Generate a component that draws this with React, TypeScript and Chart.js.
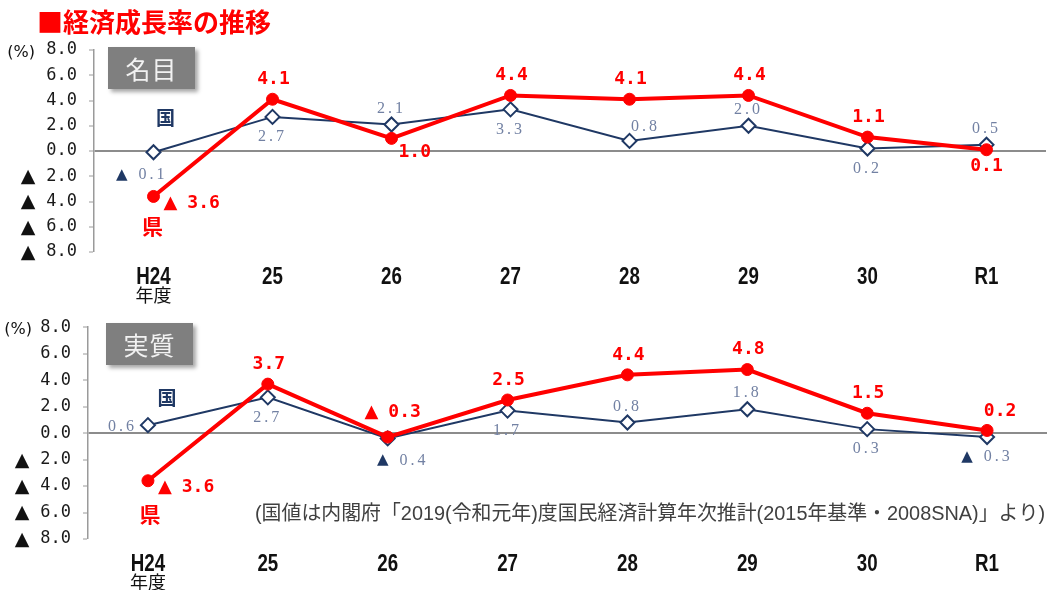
import React, { useEffect, useRef } from "react";
import { Chart, registerables } from "chart.js";

Chart.register(...registerables);

// ---------- data ----------
const categories = ["H24", "25", "26", "27", "28", "29", "30", "R1"];
const fiscalYearNote = "年度";
const yMin = -8;
const yMax = 8;
const yStep = 2;

const nominalPrefecture = [-3.6, 4.1, 1.0, 4.4, 4.1, 4.4, 1.1, 0.1];
const nominalNation = [-0.1, 2.7, 2.1, 3.3, 0.8, 2.0, 0.2, 0.5];
const realPrefecture = [-3.6, 3.7, -0.3, 2.5, 4.4, 4.8, 1.5, 0.2];
const realNation = [0.6, 2.7, -0.4, 1.7, 0.8, 1.8, 0.3, -0.3];

// label placement keys (layout only)
const nominalPrefectureLabelPos = ["E", "N", "SE", "N", "N", "N", "N", "S"];
const nominalNationLabelPos = ["SW", "S", "N", "S", "NE", "N", "S", "N"];
const realPrefectureLabelPos = ["E", "N", "NN", "N", "N", "N", "N", "NE"];
const realNationLabelPos = ["W", "S", "SE", "S", "N", "N", "S", "S"];

const titleText = "■経済成長率の推移";
const nominalTitle = "名目";
const realTitle = "実質";
const prefName = "県";
const nationName = "国";
const footnoteText =
  "(国値は内閣府「2019(令和元年)度国民経済計算年次推計(2015年基準・2008SNA)」より)";

// ---------- styles ----------
const RED = "#ff0000";
const NAVY = "#1f3864";
const NAVY_TEXT = "#7281a3";
const W = 1057;
const XH = 40;

type Place = { dx: number; dy: number; align: "left" | "center" | "right" };
const RED_PLACES: Record<string, Place> = {
  E: { dx: 10, dy: 7, align: "left" },
  N: { dx: 1, dy: -20, align: "center" },
  NN: { dx: 5, dy: -25, align: "center" },
  NE: { dx: 13, dy: -19, align: "center" },
  SE: { dx: 7, dy: 14, align: "left" },
  S: { dx: 0, dy: 17, align: "center" },
};
const NAVY_PLACES: Record<string, Place> = {
  N: { dx: 0, dy: -16, align: "center" },
  NE: { dx: 16, dy: -14, align: "center" },
  S: { dx: 0, dy: 20, align: "center" },
  SE: { dx: 15, dy: 22, align: "center" },
  SW: { dx: 14, dy: 23, align: "right" },
  W: { dx: -11, dy: 2, align: "right" },
};

type LabelStyle = {
  numFont: string;
  numColor: string;
  spacing: string;
  triFont: string;
  triColor: string;
  gap: number;
};
const RED_LABEL: LabelStyle = {
  numFont: "bold 18px 'DejaVu Sans Mono'",
  numColor: RED,
  spacing: "0px",
  triFont: "bold 18px 'DejaVu Sans'",
  triColor: RED,
  gap: 10,
};
const NAVY_LABEL: LabelStyle = {
  numFont: "16px 'Liberation Serif'",
  numColor: NAVY_TEXT,
  spacing: "3px",
  triFont: "15px 'DejaVu Sans'",
  triColor: NAVY,
  gap: 11,
};

function drawValueLabel(
  ctx: CanvasRenderingContext2D,
  x: number,
  y: number,
  v: number,
  place: Place,
  st: LabelStyle
) {
  const neg = v < 0;
  const num = Math.abs(v).toFixed(1);
  ctx.font = st.numFont;
  (ctx as any).letterSpacing = st.spacing;
  const wNum = ctx.measureText(num).width;
  (ctx as any).letterSpacing = "0px";
  ctx.font = st.triFont;
  const wTriOnly = neg ? ctx.measureText("▲").width : 0;
  const wTri = neg ? wTriOnly + st.gap : 0;
  const total = wNum + wTri;
  const ax = x + place.dx;
  const cy = y + place.dy;
  let left = ax - total / 2;
  if (place.align === "left") left = ax;
  if (place.align === "right") left = ax - total;
  ctx.textBaseline = "middle";
  ctx.textAlign = "left";
  if (neg) {
    ctx.font = st.triFont;
    ctx.fillStyle = st.triColor;
    ctx.fillText("▲", left, cy);
  }
  ctx.font = st.numFont;
  (ctx as any).letterSpacing = st.spacing;
  ctx.fillStyle = st.numColor;
  ctx.fillText(num, left + wTri, cy);
  (ctx as any).letterSpacing = "0px";
}

type PanelCfg = {
  pref: number[];
  nation: number[];
  prefPos: string[];
  nationPos: string[];
  height: number;
  left: number;
  right: number;
  top: number;
  bottom: number;
  pctDx: number;
  kokuOff: [number, number];
  kenOff: [number, number];
  footnote?: { text: string; x: number; y: number; maxWidth: number };
};

function makeDecor(cfg: PanelCfg) {
  return {
    id: "decor",
    afterDatasetsDraw(chart: any) {
      const ctx: CanvasRenderingContext2D = chart.ctx;
      const ys = chart.scales.y;
      const xs = chart.scales.x;
      const area = chart.chartArea;
      ctx.save();
      // negative tick triangles
      ctx.fillStyle = "#111";
      ctx.font = "19px 'DejaVu Sans'";
      ctx.textAlign = "center";
      ctx.textBaseline = "middle";
      ys.ticks.forEach((t: any) => {
        if (t.value < 0) ctx.fillText("▲", area.left - 66, ys.getPixelForValue(t.value) + 1);
      });
      // (%)
      ctx.font = "16px 'DejaVu Sans'";
      ctx.textAlign = "right";
      ctx.fillText("(%)", area.left - cfg.pctDx, ys.getPixelForValue(yMax) + 3);

      // category labels (condensed), positioned by the x scale
      ctx.fillStyle = "#111";
      ctx.font = "bold 24px 'Liberation Sans', sans-serif";
      ctx.textAlign = "center";
      ctx.textBaseline = "middle";
      xs.ticks.forEach((t: any, i: number) => {
        const px = xs.getPixelForTick(i);
        const label = String(xs.getLabelForValue(t.value));
        ctx.save();
        ctx.translate(px, area.bottom + 25);
        ctx.scale(0.78, 1);
        ctx.fillText(label, 0, 0);
        ctx.restore();
      });
      // 年度
      ctx.font = "18px 'Noto Sans CJK JP'";
      ctx.textAlign = "center";
      ctx.fillStyle = "#111";
      ctx.fillText(fiscalYearNote, xs.getPixelForTick(0), area.bottom + 43);

      const mPref = chart.getDatasetMeta(0).data;
      const mNat = chart.getDatasetMeta(1).data;
      // series names
      ctx.font = "bold 19px 'Noto Sans CJK JP'";
      ctx.fillStyle = NAVY;
      ctx.fillText(nationName, mNat[0].x + cfg.kokuOff[0], mNat[0].y + cfg.kokuOff[1]);
      ctx.font = "bold 21px 'Noto Sans CJK JP'";
      ctx.fillStyle = RED;
      ctx.fillText(prefName, mPref[0].x + cfg.kenOff[0], mPref[0].y + cfg.kenOff[1]);

      // value labels
      cfg.nation.forEach((v, i) => {
        drawValueLabel(ctx, mNat[i].x, mNat[i].y, v, NAVY_PLACES[cfg.nationPos[i]], NAVY_LABEL);
      });
      cfg.pref.forEach((v, i) => {
        drawValueLabel(ctx, mPref[i].x, mPref[i].y, v, RED_PLACES[cfg.prefPos[i]], RED_LABEL);
      });

      if (cfg.footnote) {
        ctx.font = "20px 'Liberation Sans', 'Noto Sans CJK JP', sans-serif";
        ctx.fillStyle = "#404040";
        ctx.textAlign = "left";
        ctx.textBaseline = "middle";
        ctx.fillText(cfg.footnote.text, cfg.footnote.x, cfg.footnote.y, cfg.footnote.maxWidth);
      }
      ctx.restore();
    },
  };
}

function Panel({ cfg }: { cfg: PanelCfg }) {
  const ref = useRef<HTMLCanvasElement | null>(null);
  useEffect(() => {
    if (!ref.current) return;
    const chart = new Chart(ref.current, {
      type: "line",
      data: {
        labels: categories,
        datasets: [
          {
            label: prefName,
            data: cfg.pref,
            borderColor: RED,
            backgroundColor: RED,
            borderWidth: 4,
            pointRadius: 6,
            pointHoverRadius: 6,
            pointBackgroundColor: RED,
            pointBorderColor: RED,
            pointBorderWidth: 1,
            tension: 0,
            order: 0,
          },
          {
            label: nationName,
            data: cfg.nation,
            borderColor: NAVY,
            backgroundColor: "#ffffff",
            borderWidth: 2,
            pointStyle: "rectRot",
            pointRadius: 7,
            pointHoverRadius: 7,
            pointBackgroundColor: "#ffffff",
            pointBorderColor: NAVY,
            pointBorderWidth: 2,
            tension: 0,
            order: 1,
          },
        ],
      },
      options: {
        responsive: false,
        animation: false,
        events: [],
        layout: {
          padding: {
            left: 0,
            right: W - cfg.right,
            top: cfg.top,
            bottom: cfg.height - cfg.bottom - XH,
          },
        },
        plugins: { legend: { display: false }, tooltip: { enabled: false } },
        scales: {
          x: {
            offset: true,
            grid: { display: false, drawTicks: false },
            border: { display: false },
            ticks: { display: false, autoSkip: false, maxRotation: 0 },
            afterFit: (s: any) => {
              s.height = XH;
            },
          },
          y: {
            min: yMin,
            max: yMax,
            ticks: {
              stepSize: yStep,
              padding: 12,
              color: "#1a1a1a",
              font: { family: "'DejaVu Sans Mono'", size: 17 },
              callback: (v: any) => Math.abs(Number(v)).toFixed(1),
            },
            grid: {
              color: (c: any) => (c.tick && c.tick.value === 0 ? "#8c8c8c" : "rgba(0,0,0,0)"),
              lineWidth: (c: any) => (c.tick && c.tick.value === 0 ? 2 : 0),
              tickColor: "#9a9a9a",
              tickWidth: 1,
              tickLength: 5,
              drawTicks: true,
            },
            border: { display: true, color: "#9a9a9a", width: 1.5 },
            afterFit: (s: any) => {
              s.width = cfg.left;
            },
          },
        },
      },
      plugins: [makeDecor(cfg)],
    } as any);
    return () => chart.destroy();
  }, [cfg]);
  return <canvas ref={ref} width={W} height={cfg.height} style={{ display: "block" }} />;
}

const topCfg: PanelCfg = {
  pref: nominalPrefecture,
  nation: nominalNation,
  prefPos: nominalPrefectureLabelPos,
  nationPos: nominalNationLabelPos,
  height: 305,
  left: 94,
  right: 1046,
  top: 50,
  bottom: 252,
  pctDx: 59,
  kokuOff: [12, -34],
  kenOff: [-1, 30],
};

const bottomCfg: PanelCfg = {
  pref: realPrefecture,
  nation: realNation,
  prefPos: realPrefectureLabelPos,
  nationPos: realNationLabelPos,
  height: 285,
  left: 88,
  right: 1047,
  top: 21,
  bottom: 234,
  pctDx: 56,
  kokuOff: [19, -27],
  kenOff: [2, 33],
  footnote: { text: footnoteText, x: 255, y: 209, maxWidth: 790 },
};

const boxStyle = (left: number, top: number): React.CSSProperties => ({
  position: "absolute",
  left,
  top,
  width: 87,
  height: 42,
  background: "#7f7f7f",
  boxShadow: "3px 3px 4px rgba(0,0,0,0.35)",
  color: "#f2f2f2",
  fontFamily: "'Noto Sans CJK JP', sans-serif",
  fontSize: 25,
  lineHeight: "42px",
  textAlign: "center",
  letterSpacing: 1,
  zIndex: 2,
});

export default function App() {
  return (
    <div
      style={{
        position: "fixed",
        left: 0,
        top: 0,
        width: W,
        height: 590,
        background: "#fff",
        overflow: "hidden",
      }}
    >
      <div style={{ position: "absolute", left: 0, top: 0 }}>
        <Panel cfg={topCfg} />
      </div>
      <div style={{ position: "absolute", left: 0, top: 305 }}>
        <Panel cfg={bottomCfg} />
      </div>
      <div
        style={{
          position: "absolute",
          left: 37,
          top: 7,
          fontFamily: "'Noto Sans CJK JP', sans-serif",
          fontWeight: "bold",
          fontSize: 26,
          lineHeight: "28px",
          color: RED,
          whiteSpace: "nowrap",
          zIndex: 2,
        }}
      >
        {titleText}
      </div>
      <div style={boxStyle(108, 47)}>{nominalTitle}</div>
      <div style={boxStyle(106, 323)}>{realTitle}</div>
    </div>
  );
}
